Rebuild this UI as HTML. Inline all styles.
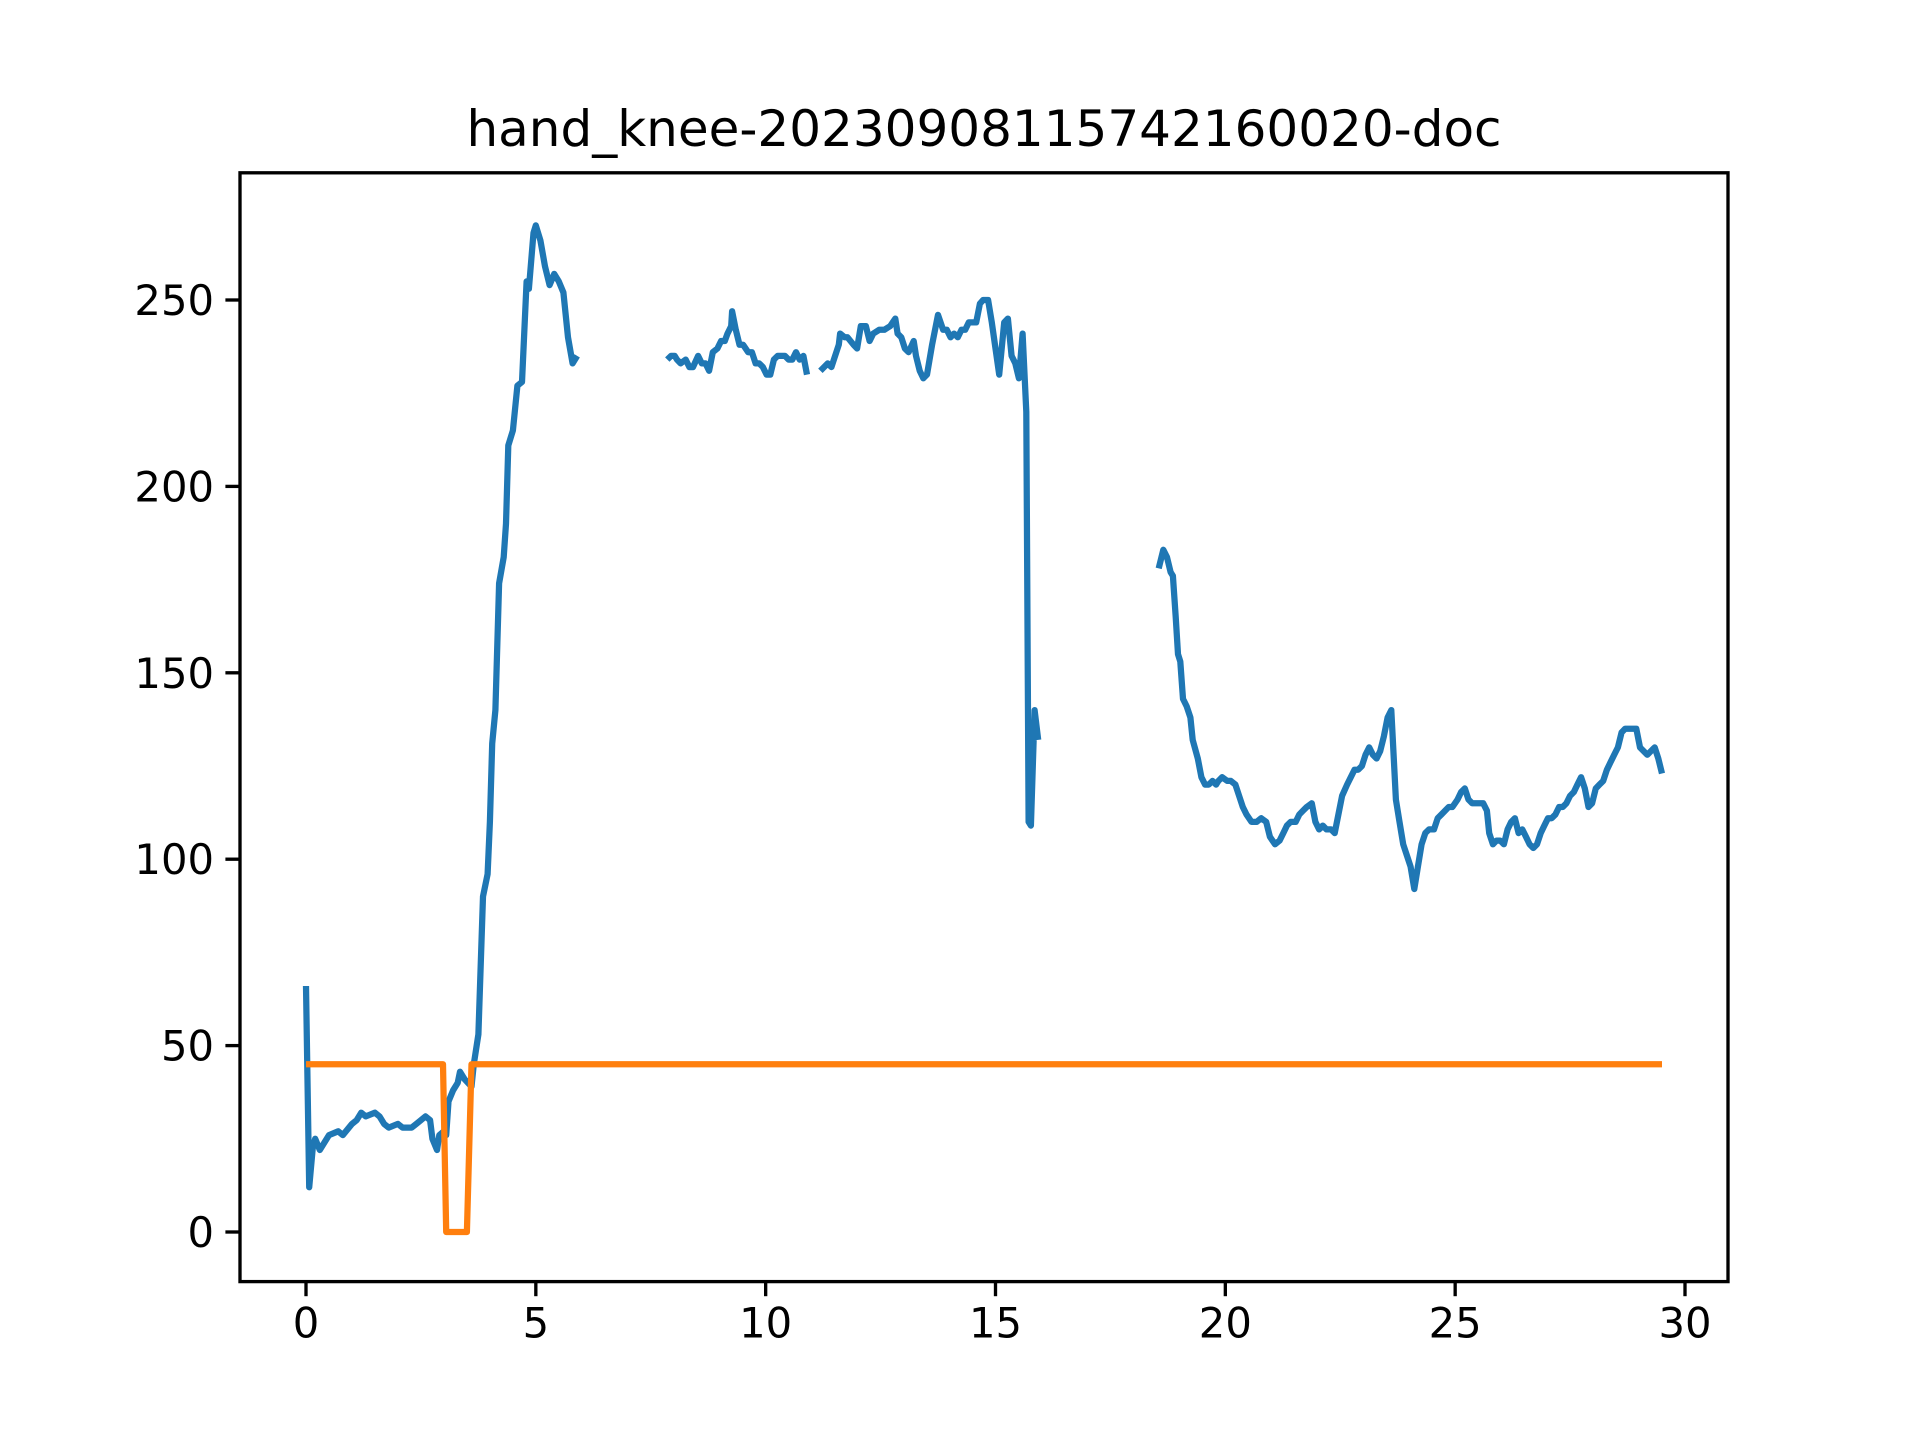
<!DOCTYPE html>
<html><head><meta charset="utf-8"><style>html,body{margin:0;padding:0;background:#fff}svg{display:block}</style></head>
<body>
<svg id="chart" width="1920" height="1440" viewBox="0 0 1920 1440" xmlns="http://www.w3.org/2000/svg" font-family="DejaVu Sans, sans-serif">
<rect width="1920" height="1440" fill="#fff"/>
<text x="984" y="146" font-size="50" text-anchor="middle">hand_knee-20230908115742160020-doc</text>
<g id="plot"></g>
<g id="axes"></g>
</svg>
<script>
const xTicks = [0,5,10,15,20,25,30];
const yTicks = [0,50,100,150,200,250];
const blueX = [0,0.07,0.15,0.2,0.3,0.5,0.7,0.8,1.0,1.1,1.2,1.3,1.5,1.6,1.7,1.8,2.0,2.1,2.3,2.4,2.5,2.6,2.7,2.75,2.85,2.9,3.0,3.05,3.1,3.2,3.3,3.35,3.45,3.6,3.65,3.75,3.85,3.95,4.0,4.05,4.12,4.2,4.3,4.35,4.4,4.5,4.6,4.7,4.8,4.85,4.95,5.0,5.1,5.2,5.3,5.4,5.5,5.6,5.7,5.8,5.9,
null,
7.86,7.94,8.02,8.07,8.15,8.26,8.34,8.42,8.53,8.61,8.69,8.77,8.85,8.95,9.03,9.11,9.17,9.25,9.27,9.35,9.43,9.51,9.62,9.70,9.78,9.86,9.94,10.02,10.10,10.18,10.26,10.34,10.42,10.50,10.58,10.66,10.74,10.82,10.90,
null,
11.19,11.35,11.43,11.59,11.62,11.72,11.78,11.91,11.99,12.07,12.18,12.26,12.34,12.47,12.58,12.71,12.82,12.87,12.95,13.03,13.11,13.22,13.27,13.35,13.43,13.51,13.62,13.75,13.86,13.94,14.02,14.10,14.18,14.26,14.34,14.42,14.58,14.66,14.73,14.84,14.92,15.00,15.08,15.19,15.27,15.35,15.43,15.51,15.59,15.67,15.72,15.77,15.85,15.93,
null,
18.55,18.65,18.73,18.81,18.86,18.92,18.97,19.02,19.08,19.16,19.24,19.29,19.40,19.48,19.56,19.64,19.72,19.80,19.85,19.93,20.04,20.12,20.22,20.30,20.38,20.46,20.57,20.68,20.78,20.89,20.97,21.08,21.18,21.26,21.34,21.42,21.53,21.61,21.69,21.77,21.88,21.96,22.04,22.12,22.20,22.30,22.38,22.46,22.54,22.65,22.73,22.81,22.89,22.97,23.05,23.13,23.21,23.29,23.37,23.45,23.53,23.61,23.71,23.79,23.87,23.95,24.03,24.11,24.19,24.27,24.35,24.43,24.54,24.62,24.70,24.78,24.86,24.94,25.05,25.13,25.21,25.29,25.37,25.45,25.53,25.61,25.69,25.74,25.82,25.90,25.98,26.06,26.14,26.22,26.30,26.38,26.46,26.54,26.62,26.70,26.78,26.86,26.94,27.02,27.10,27.18,27.26,27.34,27.42,27.50,27.58,27.66,27.74,27.82,27.90,27.98,28.06,28.14,28.22,28.30,28.38,28.46,28.54,28.62,28.70,28.78,28.86,28.94,29.02,29.10,29.18,29.26,29.34,29.42,29.50];
const blueY = [66,12,23,25,22,26,27,26,29,30,32,31,32,31,29,28,29,28,28,29,30,31,30,25,22,26,27,26,35,38,40,43,41,39,45,53,90,96,110,131,140,174,181,190,211,215,227,228,255,253,268,270,266,259,254,257,255,252,240,233,235,
null,
234,235,235,234,233,234,232,232,235,233,233,231,236,237,239,239,241,243,247,242,238,238,236,236,233,233,232,230,230,234,235,235,235,234,234,236,234,235,230,
null,
231,233,232,238,241,240,240,238,237,243,243,239,241,242,242,243,245,241,240,237,236,239,235,231,229,230,238,246,242,242,240,241,240,242,242,244,244,249,250,250,244,237,230,244,245,235,233,229,241,220,110,109,140,132,
null,
178,183,181,177,176,165,155,153,143,141,138,132,127,122,120,120,121,120,121,122,121,121,120,117,114,112,110,110,111,110,106,104,105,107,109,110,110,112,113,114,115,110,108,109,108,108,107,112,117,120,122,124,124,125,128,130,128,127,129,133,138,140,116,110,104,101,98,92,98,104,107,108,108,111,112,113,114,114,116,118,119,116,115,115,115,115,113,107,104,105,105,104,108,110,111,107,108,106,104,103,104,107,109,111,111,112,114,114,115,117,118,120,122,119,114,115,119,120,121,124,126,128,130,134,135,135,135,135,130,129,128,129,130,127,123];
const orangeX = [0,2.98,3.05,3.5,3.6,29.5];
const orangeY = [45,45,0,0,45,45];

const L=240,R=1728,T=172.8,B=1281.6;
function xs(v){return 306+v*(1685-306)/30;}
function ys(v){return 1232-v*932/250;}
const NS="http://www.w3.org/2000/svg";
const plot=document.getElementById('plot'), axes=document.getElementById('axes');
function pathD(X,Y){let d='',pen=false;for(let i=0;i<X.length;i++){if(X[i]===null||Y[i]===null){pen=false;continue;}d+=(pen?'L':'M')+xs(X[i]).toFixed(1)+' '+ys(Y[i]).toFixed(1)+' ';pen=true;}return d;}
const pb=document.createElementNS(NS,'path');
pb.setAttribute('d',pathD(blueX,blueY));pb.setAttribute('fill','none');pb.setAttribute('stroke','#1f77b4');pb.setAttribute('stroke-width','6.25');pb.setAttribute('stroke-linejoin','round');


plot.appendChild(pb);
const po=document.createElementNS(NS,'path');
po.setAttribute('d',pathD(orangeX,orangeY));po.setAttribute('fill','none');po.setAttribute('stroke','#ff7f0e');po.setAttribute('stroke-width','6.25');po.setAttribute('stroke-linejoin','round');


plot.appendChild(po);
const fr=document.createElementNS(NS,'rect');
fr.setAttribute('x',L);fr.setAttribute('y',T);fr.setAttribute('width',R-L);fr.setAttribute('height',B-T);fr.setAttribute('fill','none');fr.setAttribute('stroke','#000');fr.setAttribute('stroke-width','3.33');


axes.appendChild(fr);
xTicks.forEach(t=>{const x=xs(t);
 const ln=document.createElementNS(NS,'line');ln.setAttribute('x1',x);ln.setAttribute('x2',x);ln.setAttribute('y1',B);ln.setAttribute('y2',B+14.6);ln.setAttribute('stroke','#000');ln.setAttribute('stroke-width','3.33');
 
 
 axes.appendChild(ln);
 const tx=document.createElementNS(NS,'text');tx.setAttribute('x',x);tx.setAttribute('y',B+56);tx.setAttribute('font-size','41.7');tx.setAttribute('text-anchor','middle');tx.textContent=t;
 
 
 axes.appendChild(tx);});
yTicks.forEach(t=>{const y=ys(t);
 const ln=document.createElementNS(NS,'line');ln.setAttribute('x1',L-14.6);ln.setAttribute('x2',L);ln.setAttribute('y1',y);ln.setAttribute('y2',y);ln.setAttribute('stroke','#000');ln.setAttribute('stroke-width','3.33');
 
 
 axes.appendChild(ln);
 const tx=document.createElementNS(NS,'text');tx.setAttribute('x',L-26);tx.setAttribute('y',y+15);tx.setAttribute('font-size','41.7');tx.setAttribute('text-anchor','end');tx.textContent=t;
 
 
 axes.appendChild(tx);});
</script>
</body></html>
